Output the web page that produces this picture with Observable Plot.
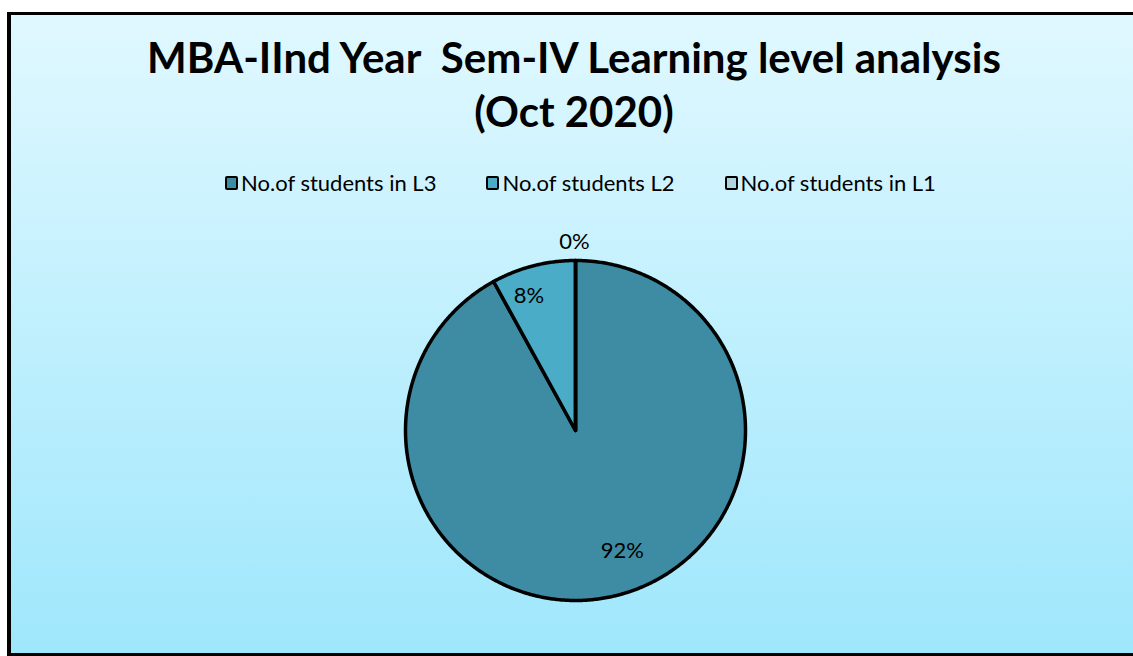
<!DOCTYPE html>
<html><head><meta charset="utf-8">
<script src="https://cdn.jsdelivr.net/npm/d3@7"></script>
<script src="https://cdn.jsdelivr.net/npm/@observablehq/plot@0.6"></script>
<style>
html,body{margin:0;padding:0;width:1133px;height:656px;overflow:hidden;background:#fff;}
#frame{position:absolute;left:7px;top:12px;width:1140px;height:644px;box-sizing:border-box;border-left:4px solid #000;border-top:3px solid #000;border-bottom:3px solid #000;background:linear-gradient(#e0f8ff,#9fe7fc);}
#title{position:absolute;left:0;width:1148px;top:30px;text-align:center;font:700 42px Lato, sans-serif;line-height:54px;color:#000;white-space:pre;}
#legend{position:absolute;left:0;width:1161px;top:169px;display:flex;justify-content:center;gap:50px;font:400 22px Lato, sans-serif;color:#000;}
.item{display:flex;align-items:center;gap:3px;}
.sw{width:9px;height:10px;border:2.5px solid #000;border-radius:2px;}
#pie{position:absolute;left:375px;top:230px;}
</style></head>
<body>
<div id="frame"></div>
<div id="title"></div>
<div id="legend"></div>
<div id="pie"></div>
<script>
const titleText = "MBA-IInd Year  Sem-IV Learning level analysis\n(Oct 2020)";
const categories = ["No.of students in L3", "No.of students L2", "No.of students in L1"];
const counts = [23, 2, 0];
const colors = ["#3d8ca3", "#4aacc7", "#aed3df"];

document.getElementById("title").textContent = titleText;
const leg = document.getElementById("legend");
categories.forEach((c, i) => {
  const it = document.createElement("div"); it.className = "item";
  const sw = document.createElement("div"); sw.className = "sw"; sw.style.background = colors[i];
  const tx = document.createElement("span"); tx.textContent = c;
  it.append(sw, tx); leg.append(it);
});

const total = d3.sum(counts);
const data = categories.map((c, i) => ({cat: c, count: counts[i], label: Math.round(counts[i] / total * 100) + "%"}));
const arcs = d3.pie().sort(null).value(d => d.count).startAngle(0).endAngle(2 * Math.PI)(data);

const wedgePts = [];
arcs.forEach(a => {
  wedgePts.push({cat: a.data.cat, x: 0, y: 0});
  const n = Math.max(1, Math.ceil((a.endAngle - a.startAngle) / (Math.PI / 360)));
  for (let k = 0; k <= n; k++) {
    const t = a.startAngle + (a.endAngle - a.startAngle) * k / n;
    wedgePts.push({cat: a.data.cat, x: Math.sin(t), y: Math.cos(t)});
  }
  wedgePts.push({cat: a.data.cat, x: 0, y: 0});
});
const labelPts = arcs.map(a => {
  const span = a.endAngle - a.startAngle;
  const big = span > Math.PI;
  const m = (a.startAngle + a.endAngle) / 2 - (span === 0 ? 0.005 : big ? 0.12 : 0.08);
  const r = a.data.count === 0 ? 1.11 : (big ? 0.76 : 0.84);
  return {label: a.data.label, x: r * Math.sin(m), y: r * Math.cos(m)};
});

const R = 200 / 170;
const chart = Plot.plot({
  width: 400, height: 400, margin: 0,
  x: {domain: [-R, R], axis: null},
  y: {domain: [-R, R], axis: null},
  color: {domain: categories, range: colors},
  style: {background: "transparent", overflow: "visible"},
  marks: [
    Plot.line(wedgePts, {x: "x", y: "y", z: "cat", fill: "cat", stroke: "#000", strokeWidth: 3.5, strokeLinejoin: "round", curve: "linear"}),
    Plot.text(labelPts, {x: "x", y: "y", text: "label", fontSize: 22, fontFamily: "Lato, sans-serif", fill: "#000"})
  ]
});
document.getElementById("pie").append(chart);
</script>
</body></html>
